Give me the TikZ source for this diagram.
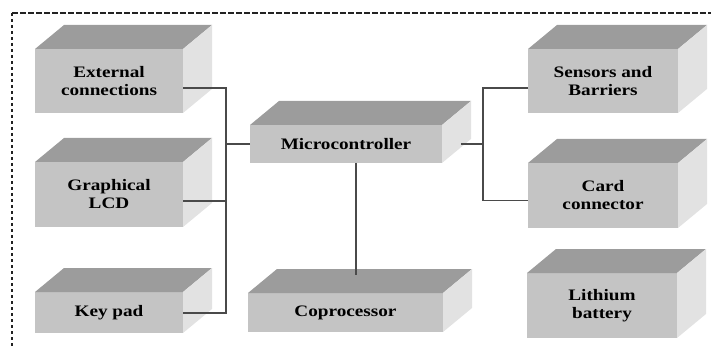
\documentclass[tikz,border=0pt]{standalone}
\usepackage{fontspec}
\setmainfont{Liberation Serif}[FakeStretch=1.2]
\definecolor{frontc}{HTML}{C4C4C4}
\definecolor{topc}{HTML}{9C9C9C}
\definecolor{sidec}{HTML}{E2E2E2}
\definecolor{wirec}{HTML}{4A4A4A}
\definecolor{borderc}{HTML}{222222}
\tikzset{
  front/.style={fill=frontc, draw=none, outer sep=0pt, inner sep=0pt, align=center,
    font=\bfseries\fontsize{16}{18}\selectfont, text=black},
  topface/.style={fill=topc},
  sideface/.style={fill=sidec},
  wire/.style={draw=wirec, line width=1.9pt},
  border/.style={draw=borderc, line width=2pt}
}
\newcommand\boxfaces[1]{%
  \fill[topface] (#1.north west) -- ++(29,-24) -- ([shift={(29,-24)}]#1.north east) -- (#1.north east) -- cycle;
  \fill[sideface] (#1.north east) -- ++(29,-24) -- ([shift={(29,-24)}]#1.south east) -- (#1.south east) -- cycle;
}
\begin{document}
\begin{tikzpicture}[x=1pt, y=-1pt]
\useasboundingbox (0,0) rectangle (711,347);

% dashed frame (top and left visible)
\coordinate (corner) at (12,13);
\coordinate (topend) at (716,13);
\coordinate (leftend) at (12,352);
\draw[border, dash pattern=on 5.5pt off 2.5pt] (corner) -- (topend);
\draw[border, dash pattern=on 2.6pt off 3.4pt] (corner) -- (leftend);

% boxes
\node[front, minimum width=148pt, minimum height=64pt] (ext) at (109,81) {External\\connections};
\node[front, minimum width=148pt, minimum height=65pt] (lcd) at (109,194.5) {Graphical\\LCD};
\node[front, minimum width=148pt, minimum height=41pt] (key) at (109,312.5) {Key pad};
\node[front, minimum width=192pt, minimum height=38pt] (micro) at (346,144) {Microcontroller};
\node[front, minimum width=195pt, minimum height=39pt] (copro) at (345.5,312.5) {Coprocessor};
\node[front, minimum width=150pt, minimum height=64pt] (sens) at (603,81) {Sensors and\\Barriers};
\node[front, minimum width=150pt, minimum height=65pt] (card) at (603,195.5) {Card\\connector};
\node[front, minimum width=150pt, minimum height=65pt] (batt) at (602,305.5) {Lithium\\battery};
\boxfaces{ext}
\boxfaces{lcd}
\boxfaces{key}
\boxfaces{micro}
\boxfaces{copro}
\boxfaces{sens}
\boxfaces{card}
\boxfaces{batt}

% connectors
\coordinate (lbus) at (226,200);
\coordinate (rbus) at (483,144);
\draw[wire] ([yshift=-7pt]ext.east) -| (lbus) |- ([yshift=-0.5pt]key.east);
\draw[wire] ([yshift=-6.5pt]lcd.east) -| (lbus);
\draw[wire] (micro.west) -| (lbus);
\draw[wire] ([xshift=19pt]micro.east) -- (rbus);
\draw[wire] ([yshift=-7pt]sens.west) -| (rbus) |- ([yshift=-5pt]card.west);
\coordinate (cptop) at (356,275);
\draw[wire] ([xshift=10pt]micro.south) -- (cptop);
\end{tikzpicture}
\end{document}
